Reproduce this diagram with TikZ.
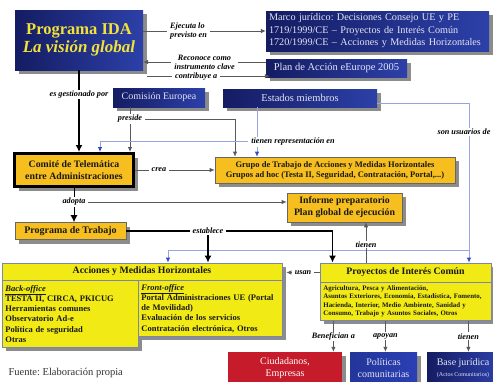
\documentclass[tikz,border=0pt]{standalone}
\usepackage{fontspec}
\setmainfont{Liberation Serif}
\usetikzlibrary{arrows.meta,shadows}
\frenchspacing

\definecolor{navyL}{HTML}{141C62}
\definecolor{navyR}{HTML}{2C40A8}
\definecolor{idayellow}{HTML}{F2E23A}
\definecolor{boxtext}{HTML}{E2E4F4}
\definecolor{goldbox}{HTML}{F6BE1E}
\definecolor{yellowbox}{HTML}{F1EA14}
\definecolor{edgeblue}{HTML}{7A86AE}
\definecolor{lineblue}{HTML}{97A3E2}
\definecolor{tipblue}{HTML}{2E4CC4}
\definecolor{redbox}{HTML}{C51B2A}
\definecolor{polblue}{HTML}{2A3FB4}

\tikzset{
  conn/.style={draw=black!65, line width=.8pt},
  thickconn/.style={draw=black, line width=1.8pt},
  bconn/.style={draw=lineblue, line width=.8pt},
  tip/.style={-{Latex[length=5pt,width=4.5pt]}},
  bigtip/.style={-{Latex[length=7pt,width=7pt]}},
  btip/.style={-{Latex[length=5pt,width=4.5pt,color=tipblue]}},
  lbl/.style={fill=white, inner ysep=1pt, inner xsep=3pt, align=center,
    font=\bfseries\itshape\fontsize{8.2}{9}\selectfont},
  shade/.style={drop shadow={shadow xshift=4pt, shadow yshift=-4pt,
    fill=black!45, opacity=1}},
  bluebox/.style={shade, left color=navyL, right color=navyR, draw=none,
    text=boxtext, inner sep=0pt},
  goldnode/.style={shade, fill=goldbox, draw=black!60, line width=.6pt,
    align=center, inner sep=0pt, text=black!90},
  ylwnode/.style={fill=yellowbox, draw=edgeblue, line width=.8pt,
    inner sep=0pt, text=black!90}
}

\begin{document}
\begin{tikzpicture}[x=1pt,y=-1pt]
\useasboundingbox (0,0) rectangle (493,381);

\node[bluebox, minimum width=128pt, minimum height=60pt, text=idayellow, align=center] (ida) at (79,40)
  {\fontsize{16.5}{20}\selectfont\bfseries Programa IDA\\[1pt]
   \fontsize{17}{20}\selectfont\bfseries\itshape La visión global};
\node[bluebox, minimum width=223pt, minimum height=40pt, text width=217pt, inner xsep=3pt, align=left,
  font=\fontsize{10.2}{12.5}\selectfont] (marco) at (377.5,31)
  {Marco jurídico: Decisiones Consejo UE y PE\\
   1719/1999/CE -- Proyectos de Interés Común\\
   1720/1999/CE -- Acciones y Medidas Horizontales};
\node[bluebox, minimum width=141pt, minimum height=18pt, font=\fontsize{10.5}{12}\selectfont] (plan) at (336.5,68)
  {Plan de Acción eEurope 2005};
\node[bluebox, minimum width=92pt, minimum height=19pt, font=\fontsize{10}{12}\selectfont] (comision) at (159,97.5)
  {Comisión Europea};
\node[bluebox, minimum width=154pt, minimum height=18pt, font=\fontsize{10.5}{12}\selectfont] (estados) at (300,98)
  {Estados miembros};

\node[goldnode, draw=black, line width=3pt, minimum width=119pt, minimum height=33pt,
  font=\bfseries\fontsize{9.8}{12}\selectfont] (comite) at (74,170)
  {Comité de Telemática\\entre Administraciones};
\node[goldnode, minimum width=240pt, minimum height=26pt,
  font=\bfseries\fontsize{8.5}{10}\selectfont] (grupo) at (335,170)
  {Grupo de Trabajo de Acciones y Medidas Horizontales\\
   Grupos ad hoc (Testa II, Seguridad, Contratación, Portal,...)};
\node[goldnode, minimum width=115pt, minimum height=29pt,
  font=\bfseries\fontsize{9.8}{12}\selectfont] (informe) at (344.5,207.5)
  {Informe preparatorio\\Plan global de ejecución};
\node[goldnode, minimum width=111pt, minimum height=17pt,
  font=\bfseries\fontsize{10}{12}\selectfont] (ptrab) at (70.5,231)
  {Programa de Trabajo};

\node[ylwnode, shade, minimum width=280pt, minimum height=17pt,
  font=\bfseries\fontsize{9.8}{12}\selectfont] (acch) at (142,271.5)
  {Acciones y Medidas Horizontales};
\node[ylwnode, shade, anchor=north west, minimum width=136pt, minimum height=67pt,
  text width=130pt, align=left, inner sep=3pt, font=\bfseries\fontsize{8.5}{10.2}\selectfont] (back) at (2,280)
  {\underline{\itshape Back-office}\\
   TESTA II, CIRCA, PKICUG\\
   Herramientas comunes\\
   Observatorio Ad-e\\
   Política de seguridad\\
   Otras};
\node[ylwnode, shade, anchor=north west, minimum width=144pt, minimum height=56pt,
  text width=138pt, align=left, inner sep=3pt, font=\bfseries\fontsize{8.5}{10.2}\selectfont] (front) at (138,280)
  {\underline{\itshape Front-office}\\
   Portal Administraciones UE (Portal\\
   de Movilidad)\\
   Evaluación de los servicios\\
   Contratación electrónica, Otros};

\node[ylwnode, shade, minimum width=171pt, minimum height=19pt,
  font=\bfseries\fontsize{9.8}{12}\selectfont] (proyh) at (405.5,272.5)
  {Proyectos de Interés Común};
\node[ylwnode, shade, anchor=north west, minimum width=171pt, minimum height=38pt,
  text width=165pt, align=left, inner sep=3pt, font=\bfseries\fontsize{6.9}{8.3}\selectfont] (proyb) at (320,282)
  {Agricultura, Pesca y Alimentación,\\
   Asuntos Exteriores, Economía, Estadística, Fomento,\\
   Hacienda, Interior, Medio Ambiente, Sanidad y\\
   Consumo, Trabajo y Asuntos Sociales, Otros};

\node[shade, fill=redbox, text=white, align=center, minimum width=114pt, minimum height=32pt,
  font=\fontsize{10}{11.5}\selectfont] (ciud) at (285,368)
  {Ciudadanos,\\Empresas};
\node[bluebox, left color=polblue!85!black, right color=polblue, align=center, minimum width=67pt,
  minimum height=32pt, font=\fontsize{10}{11.5}\selectfont] (pol) at (383.5,368)
  {Políticas\\comunitarias};
\node[bluebox, align=center, minimum width=72pt, minimum height=32pt,
  font=\fontsize{10}{11.5}\selectfont] (base) at (463,368)
  {Base jurídica\\{\fontsize{6}{7}\selectfont (Actos Comunitarios)}};

\node[anchor=west, text=black!80, font=\fontsize{10.5}{12}\selectfont] (fuente) at (5,373)
  {Fuente: Elaboración propia};

\draw[conn,tip] (ida.east |- marco.west) -- node[lbl,align=left,pos=.37] {Ejecuta lo\\previsto en} (marco.west);
\draw[conn,tip] ([yshift=6pt]plan.west) -- node[lbl] {Reconoce como\\instrumento clave} ([yshift=6pt]plan.west -| ida.east);
\draw[conn,tip] ([xshift=4pt,yshift=-6pt]ida.south east) -- node[lbl,pos=.4] {contribuye a} ([xshift=4pt,yshift=-6pt]ida.south east -| plan.west);

\draw[thickconn,bigtip] (ida.south) -- node[lbl,pos=.3] {es gestionado por} (ida.south |- comite.north);

\coordinate (pr) at (130,119);
\draw[conn] (pr |- comision.south) -- (pr);
\draw[conn,tip] (pr) -- (pr |- comite.north);
\draw[conn,tip] (pr) -| ([xshift=-100pt]grupo.north);
\node[lbl] (prl) at (pr) {preside};

\coordinate (tr) at (257,141);
\draw[bconn] (tr |- estados.south) -- (tr);
\draw[bconn,btip] (tr) -- (tr |- grupo.north);
\draw[bconn,btip] (tr) -| ([xshift=26pt]comite.north);
\node[lbl] (trl) at (293,142) {tienen representación en};

\draw[conn,tip] (comite.east) -- node[lbl,pos=.3] {crea} (grupo.west);

\coordinate (ad) at (74,202);
\draw[draw=black, line width=1pt] (comite.south) -- (ad);
\draw[draw=black, line width=1pt, bigtip] (ad) -- (ad |- ptrab.north);
\draw[conn,tip] (ad) -- (ad -| informe.west);
\node[lbl] (adl) at (ad) {adopta};

\coordinate (su) at (469,250);
\draw[bconn] ([yshift=-5pt]estados.east) -| (su);
\draw[bconn,btip] (su) -- (su |- proyh.north);
\draw[bconn,btip] (su) -| ([xshift=26pt]acch.north);
\node[lbl] (sul) at (464,132) {son usuarios de};

\coordinate (es) at (208,231);
\draw[thickconn] (ptrab.east) -- (es);
\draw[thickconn,bigtip] (es) -- (es |- acch.north);
\draw[thickconn,bigtip] (es) -| ([xshift=-73pt]proyh.north);
\node[lbl] (esl) at (es) {establece};

\draw[conn,tip] ([xshift=-39.5pt]proyh.north) -- node[lbl,pos=.45] {tienen} ([xshift=-39.5pt]proyh.north |- informe.south);
\draw[conn,tip] (proyh.west) -- node[lbl] {usan} ([xshift=4pt]proyh.west -| acch.east);

\draw[conn,tip] ([xshift=-72.5pt]proyb.south) -- node[lbl] {Benefician a} ([xshift=-72.5pt]proyb.south |- ciud.north);
\draw[conn,tip] ([xshift=-20.5pt]proyb.south) -- node[lbl] {apoyan} ([xshift=-20.5pt]proyb.south |- pol.north);
\draw[conn,tip] ([xshift=62.5pt]proyb.south) -- node[lbl] {tienen} ([xshift=62.5pt]proyb.south |- base.north);

\end{tikzpicture}
\end{document}
